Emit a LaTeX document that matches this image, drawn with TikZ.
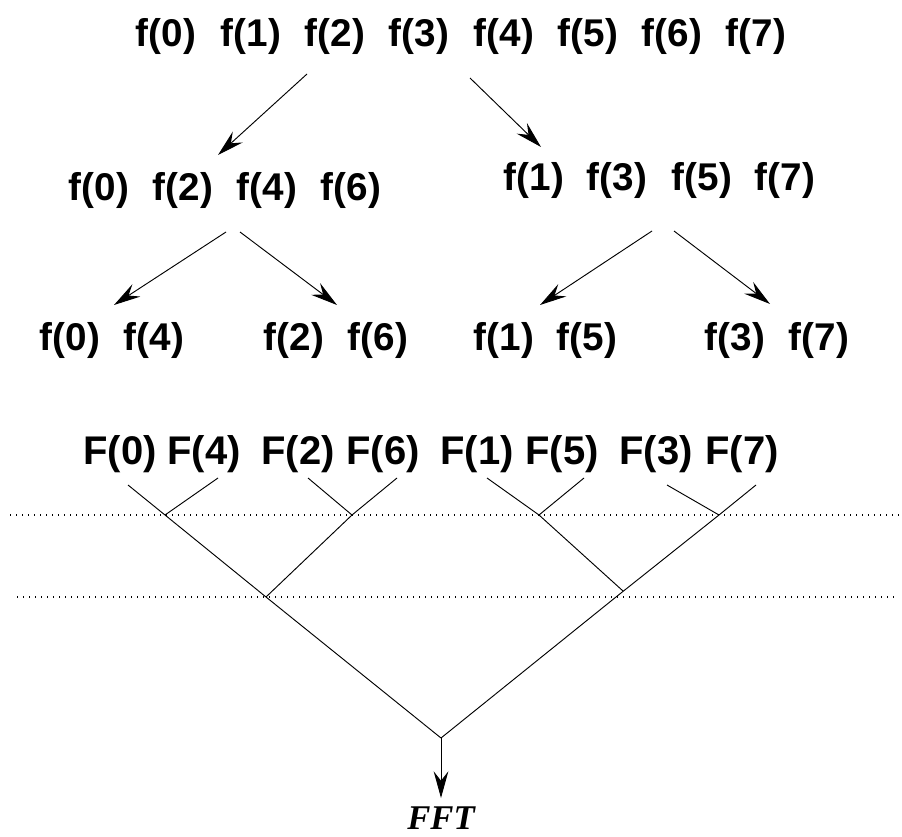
\documentclass[tikz,border=0pt]{standalone}
\usepackage{fontspec}
\setmainfont{Liberation Sans}
\newfontfamily\fftfont{Liberation Serif}
\usetikzlibrary{arrows.meta}
\begin{document}
\begin{tikzpicture}[x=0.75pt,y=-0.75pt,
  lbl/.style={font=\fontsize{29}{31}\selectfont\bfseries, inner sep=0pt, anchor=base},
  Flbl/.style={font=\fontsize{30}{32}\selectfont\bfseries, inner sep=0pt, anchor=base},
  arr/.style={line width=0.7pt, -{Stealth[length=20pt,width=11pt,inset=7pt]}},
  tree/.style={line width=0.7pt},
  dotline/.style={line width=0.8pt, dash pattern={on 0.8pt off 3.7pt}}]
\useasboundingbox (0,0) rectangle (902,837);
% top row
\foreach \n/\x in {0/166,1/251,2/335,3/419,4/504,5/588,6/672,7/756}
  \node[lbl] (t\n) at (\x,47) {f(\n)};
% second row
\foreach \n/\x in {0/99,2/183,4/267,6/351}
  \node[lbl] (l\n) at (\x,201) {f(\n)};
\foreach \n/\x in {1/534,3/617,5/702,7/785}
  \node[lbl] (r\n) at (\x,191) {f(\n)};
% third row
\foreach \n/\x in {0/70,4/154,2/294,6/378,1/504,5/587,3/735,7/819}
  \node[lbl] (b\n) at (\x,351) {f(\n)};
% F row
\foreach \n/\x in {0/120,4/204,2/298,6/383,1/477,5/562,3/656,7/742}
  \node[Flbl] (F\n) at (\x,464) {F(\n)};
\node[font=\fftfont\fontsize{26}{28}\selectfont\bfseries\itshape, inner sep=0pt, anchor=base] (fft) at (441,829) {FFT};
% arrow end points
\coordinate (a1s) at (307,74);  \coordinate (a1e) at (218,155);
\coordinate (a2s) at (470,78);  \coordinate (a2e) at (541,147);
\coordinate (b1s) at (226,232); \coordinate (b1e) at (114,305);
\coordinate (b2s) at (240,232); \coordinate (b2e) at (337,305);
\coordinate (c1s) at (652,231); \coordinate (c1e) at (540,305);
\coordinate (c2s) at (674,231); \coordinate (c2e) at (770,304);
\draw[arr] (a1s) -- (a1e);
\draw[arr] (a2s) -- (a2e);
\draw[arr] (b1s) -- (b1e);
\draw[arr] (b2s) -- (b2e);
\draw[arr] (c1s) -- (c1e);
\draw[arr] (c2s) -- (c2e);
% dotted lines
\coordinate (d1a) at (10,515);  \coordinate (d1b) at (902,515);
\coordinate (d2a) at (17,597);  \coordinate (d2b) at (898,597);
\draw[dotline] (d1a) -- (d1b);
\draw[dotline] (d2a) -- (d2b);
% tree
\coordinate (s0) at (128,485); \coordinate (s4) at (218,478);
\coordinate (s2) at (308,478); \coordinate (s6) at (397,478);
\coordinate (s1) at (487,478); \coordinate (s5) at (584,478);
\coordinate (s3) at (667,485); \coordinate (s7) at (756,485);
\coordinate (j04) at (165,515); \coordinate (j26) at (352,515);
\coordinate (j15) at (539,515); \coordinate (j37) at (719,515);
\coordinate (jL) at (266,597);  \coordinate (jR) at (616,597);
\coordinate (e1) at (623,591);
\coordinate (root) at (441,738);
\coordinate (rootend) at (441,798);
\draw[tree] (s0) -- (j04) -- (jL) -- (root);
\draw[tree] (s7) -- (j37) -- (jR) -- (root);
\draw[tree] (s4) -- (j04);
\draw[tree] (s2) -- (j26);
\draw[tree] (s6) -- (j26) -- (jL);
\draw[tree] (s5) -- (j15);
\draw[tree] (s1) -- (j15) -- (e1);
\draw[tree] (s3) -- (j37);
\draw[arr] (root) -- (rootend);
\end{tikzpicture}
\end{document}
